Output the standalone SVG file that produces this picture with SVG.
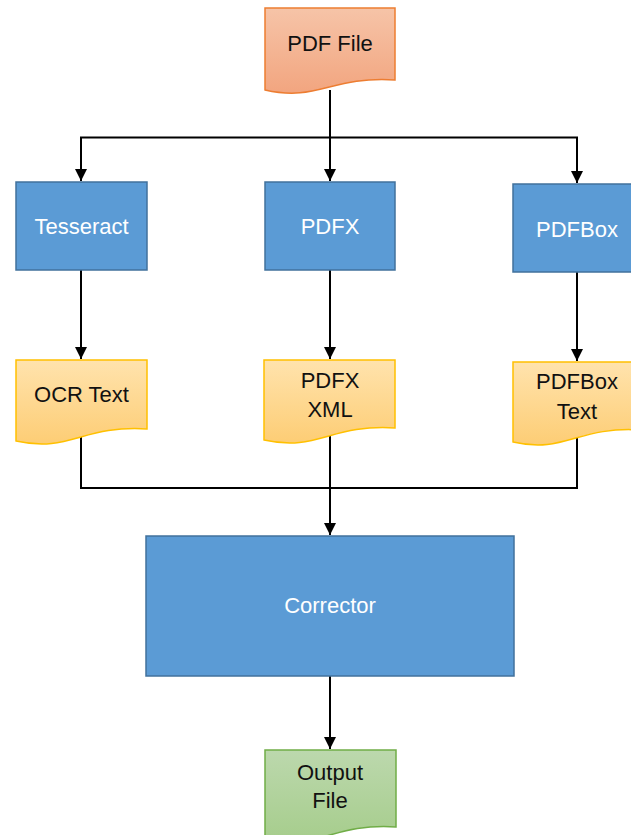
<svg xmlns="http://www.w3.org/2000/svg" width="631" height="835" viewBox="0 0 631 835">
<style>
.proc{fill:#5b9bd5;stroke:#41719c;stroke-width:1.5}
.lw{font-family:"Liberation Sans",Arial,sans-serif;font-size:22px;fill:#ffffff;text-anchor:middle}
.lb{font-family:"Liberation Sans",Arial,sans-serif;font-size:22px;fill:#111111;text-anchor:middle}
.con{fill:none;stroke:#000000;stroke-width:2}
</style>
<defs>
<linearGradient id="gOr" x1="0" y1="0" x2="0" y2="1"><stop offset="0" stop-color="#f6c4a8"/><stop offset="1" stop-color="#f2a57f"/></linearGradient>
<linearGradient id="gYe" x1="0" y1="0" x2="0" y2="1"><stop offset="0" stop-color="#ffe3ad"/><stop offset="1" stop-color="#fdcd75"/></linearGradient>
<linearGradient id="gGr" x1="0" y1="0" x2="0" y2="1"><stop offset="0" stop-color="#bcd8ad"/><stop offset="1" stop-color="#a6cd8c"/></linearGradient>
<marker id="arr" markerWidth="12" markerHeight="12" refX="10" refY="5" orient="auto" markerUnits="userSpaceOnUse" viewBox="0 0 10 10">
<path d="M0,0 L10,5 L0,10 Z" fill="#000000"/>
</marker>
</defs>
<g id="connectors">
<path class="con" d="M330,90 V181" marker-end="url(#arr)"/>
<path class="con" d="M330,137.5 H81 V181" marker-end="url(#arr)"/>
<path class="con" d="M330,137.5 H577 V183" marker-end="url(#arr)"/>
<path class="con" d="M81,270 V359" marker-end="url(#arr)"/>
<path class="con" d="M330,270 V359" marker-end="url(#arr)"/>
<path class="con" d="M577,272 V361" marker-end="url(#arr)"/>
<path class="con" d="M81,435 V488 H577 V435"/>
<path class="con" d="M330,435 V535" marker-end="url(#arr)"/>
<path class="con" d="M330,676 V749" marker-end="url(#arr)"/>
</g>
<g id="pdf-file">
<path d="M265,8 H395 V80 C330,76 318,102 265,90 Z" fill="url(#gOr)" stroke="#ed7d31" stroke-width="1.5"/>
<text class="lb" x="330" y="51">PDF File</text>
</g>
<g id="tesseract">
<rect class="proc" x="16" y="182" width="131" height="88"/>
<text class="lw" x="81.5" y="234">Tesseract</text>
</g>
<g id="pdfx">
<rect class="proc" x="265" y="182" width="130" height="88"/>
<text class="lw" x="330" y="234">PDFX</text>
</g>
<g id="pdfbox">
<rect class="proc" x="513" y="184" width="128" height="88"/>
<text class="lw" x="577" y="237">PDFBox</text>
</g>
<g id="ocr-text">
<path d="M16,360 H147 V429 C82,425 70,453 16,441 Z" fill="url(#gYe)" stroke="#ffc000" stroke-width="1.5"/>
<text class="lb" x="81.5" y="402">OCR Text</text>
</g>
<g id="pdfx-xml">
<path d="M264,360 H395 V428 C330,424 318,452 264,440 Z" fill="url(#gYe)" stroke="#ffc000" stroke-width="1.5"/>
<text class="lb" x="330" y="388">PDFX</text>
<text class="lb" x="330" y="417">XML</text>
</g>
<g id="pdfbox-text">
<path d="M513,362 H641 V430 C577,426 565,454 513,442 Z" fill="url(#gYe)" stroke="#ffc000" stroke-width="1.5"/>
<text class="lb" x="577" y="389">PDFBox</text>
<text class="lb" x="577" y="419">Text</text>
</g>
<g id="corrector">
<rect class="proc" x="146" y="536" width="368" height="140"/>
<text class="lw" x="330" y="613">Corrector</text>
</g>
<g id="output-file">
<path d="M265,750 H396 V827 C331,823 319,851 265,839 Z" fill="url(#gGr)" stroke="#70ad47" stroke-width="1.5"/>
<text class="lb" x="330" y="780">Output</text>
<text class="lb" x="330" y="808">File</text>
</g>
</svg>
